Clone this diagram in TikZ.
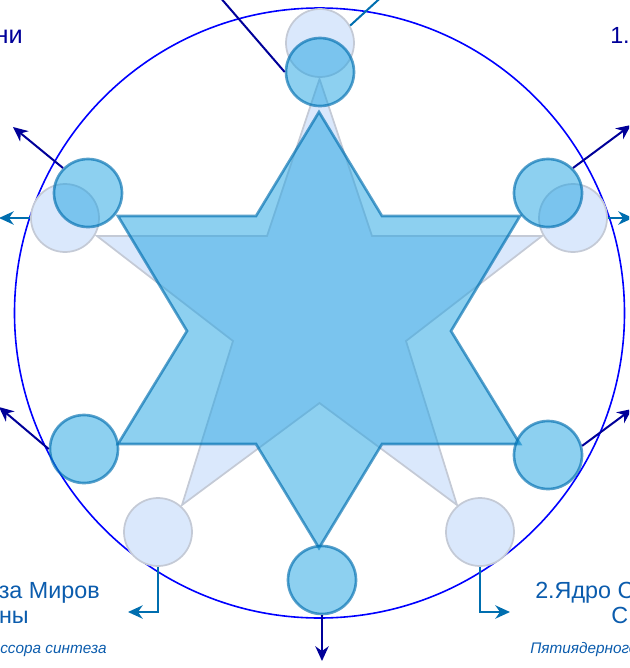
\documentclass[tikz,border=0pt]{standalone}
\usepackage{fontspec}
\setmainfont{Liberation Sans}
\usetikzlibrary{arrows.meta}
\definecolor{ringblue}{HTML}{0000FF}
\definecolor{linknavy}{HTML}{000099}
\definecolor{linkteal}{HTML}{006EAF}
\definecolor{starfill}{HTML}{1BA1E2}
\definecolor{stardraw}{HTML}{006EAF}
\definecolor{palefill}{HTML}{DAE8FC}
\definecolor{paledraw}{HTML}{C4CAD6}
\definecolor{textblue}{HTML}{0B5CAD}
\begin{document}
\begin{tikzpicture}[x=0.75pt, y=-0.75pt,
    pale/.style={fill=palefill, draw=paledraw, line width=1.3pt},
    palecirc/.style={pale, circle, minimum size=51pt, inner sep=0pt},
    darkstar/.style={fill=starfill, fill opacity=0.5, draw=stardraw, draw opacity=0.65, line width=2pt},
    darkcirc/.style={darkstar, circle, minimum size=51pt, inner sep=0pt},
    navyarr/.style={draw=linknavy, line width=1.5pt, -{Stealth[length=11pt,width=10pt,inset=3.5pt]}},
    tealarr/.style={draw=linkteal, line width=1.5pt, -{Stealth[length=11pt,width=10pt,inset=3.5pt]}},
    bigtext/.style={font=\fontsize{17.5}{20}\selectfont, text=textblue, inner sep=0pt},
    smalltext/.style={font=\fontsize{11.5}{13}\selectfont\itshape, text=textblue, inner sep=0pt}]
    \path[use as bounding box, clip] (0,0) rectangle (629,668);
    % внешний круг
    \draw[ringblue, line width=1.2pt] (319.5,313) circle [radius=228.75pt];
    % бледная пятиконечная звезда
    \path[pale] (319.5,79) -- (372,236) -- (542,236) -- (406,341) -- (457,505)
        -- (319.5,403) -- (182,505) -- (233,341) -- (97,236) -- (267,236) -- cycle;
    % бледные круги
    \node[palecirc] (p-top) at (320,43) {};
    \node[palecirc] (p-l) at (65,218) {};
    \node[palecirc] (p-r) at (573,218) {};
    \node[palecirc] (p-bl) at (158,532) {};
    \node[palecirc] (p-br) at (480,532) {};
    % шестиконечная звезда
    \path[darkstar] (319,112) -- (382,216) -- (520,216) -- (451,331) -- (520,444) -- (382,444)
        -- (319,548) -- (256,444) -- (118,444) -- (187,331) -- (118,216) -- (256,216) -- cycle;
    % круги звезды
    \node[darkcirc] (d-top) at (320,72) {};
    \node[darkcirc] (d-ul) at (88,193) {};
    \node[darkcirc] (d-ur) at (548,193) {};
    \node[darkcirc] (d-ll) at (84,449) {};
    \node[darkcirc] (d-lr) at (548,455) {};
    \node[darkcirc] (d-b) at (322,580) {};
    % стрелки
    \coordinate (t-top) at (200,-26);
    \coordinate (t-ul) at (13,127);
    \coordinate (t-ur) at (631,125);
    \coordinate (t-ll) at (-1,407);
    \coordinate (t-lr) at (632,409);
    \coordinate (t-b) at (322,661);
    \coordinate (s-top) at (400,-20);
    \coordinate (s-l) at (-1,218);
    \coordinate (s-r) at (633,218);
    \coordinate (s-bl) at (128,612);
    \coordinate (s-br) at (510,612);
    \draw[navyarr] (d-top.west) -- (t-top);
    \draw[navyarr] (d-ul.135) -- (t-ul);
    \draw[navyarr] (d-ur.45) -- (t-ur);
    \draw[navyarr] (d-ll.west) -- (t-ll);
    \draw[navyarr] (d-lr.15) -- (t-lr);
    \draw[navyarr] (d-b.south) -- (t-b);
    \draw[tealarr] (p-top.30) -- (s-top);
    \draw[tealarr] (p-l.west) -- (s-l);
    \draw[tealarr] (p-r.east) -- (s-r);
    \draw[tealarr] (p-bl.south) |- (s-bl);
    \draw[tealarr] (p-br.south) |- (s-br);
    % подписи
    \node[font=\fontsize{19}{22}\selectfont, text=linknavy, inner sep=0pt, anchor=base east] (txt-tl) at (23,43) {ни};
    \node[font=\fontsize{17.5}{20}\selectfont, text=linknavy, inner sep=0pt, anchor=base west] (txt-tr) at (610,43) {1.};
    \node[bigtext, anchor=base east] (txt-bl1) at (100,598) {за Миров};
    \node[bigtext, anchor=base east] (txt-bl2) at (29,623) {ны};
    \node[smalltext, anchor=base east] (txt-bl3) at (107,653) {ссора синтеза};
    \node[bigtext, anchor=base west] (txt-br1) at (535,598) {2.Ядро С};
    \node[bigtext, anchor=base west] (txt-br2) at (611,623) {С};
    \node[smalltext, anchor=base west] (txt-br3) at (530,653) {Пятиядерного};
\end{tikzpicture}
\end{document}
